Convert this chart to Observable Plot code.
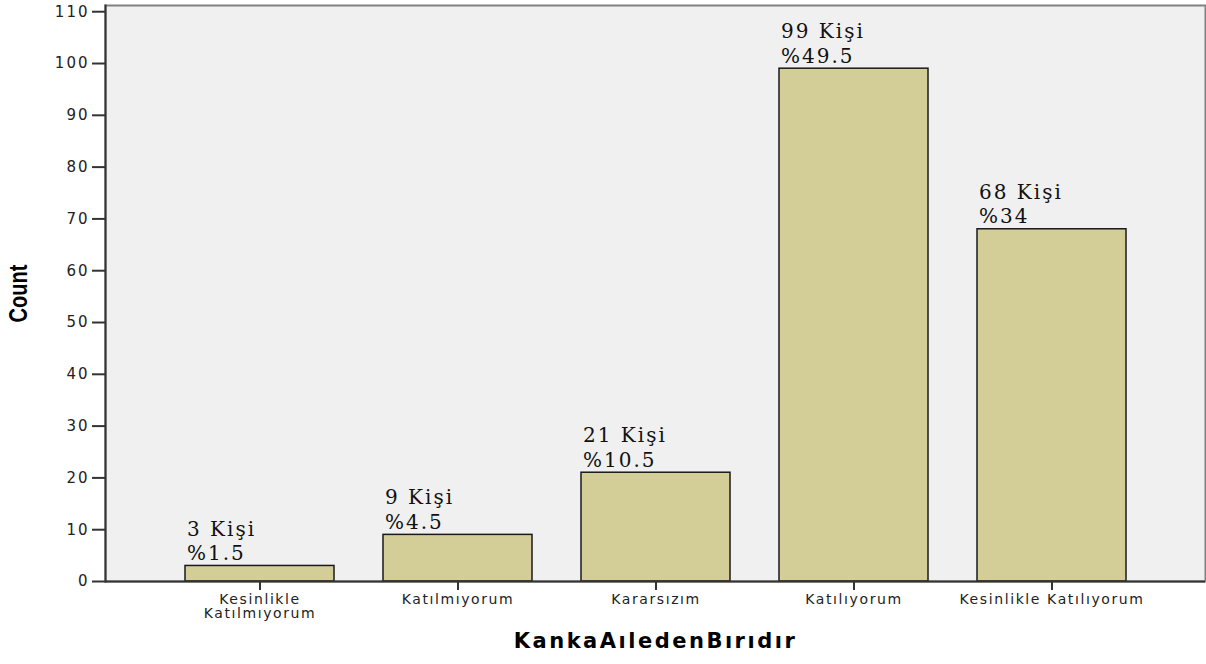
<!DOCTYPE html>
<html>
<head>
<meta charset="utf-8">
<script src="https://cdn.jsdelivr.net/npm/d3@7"></script>
<script src="https://cdn.jsdelivr.net/npm/@observablehq/plot@0.6"></script>
<style>
  html, body { margin: 0; padding: 0; background: #ffffff; }
  #chart svg { display: block; }
</style>
</head>
<body>
<div id="chart"></div>
<script>
const categories = ["Kesinlikle Katılmıyorum", "Katılmıyorum", "Kararsızım", "Katılıyorum", "Kesinlikle Katılıyorum"];
const counts = [3, 9, 21, 99, 68];
const percents = ["1.5", "4.5", "10.5", "49.5", "34"];
const tickLabels = ["Kesinlikle\nKatılmıyorum", "Katılmıyorum", "Kararsızım", "Katılıyorum", "Kesinlikle Katılıyorum"];
const yTicks = [0, 10, 20, 30, 40, 50, 60, 70, 80, 90, 100, 110];

const data = categories.map((c, i) => ({
  category: c,
  count: counts[i],
  label: `${counts[i]} Kişi\n%${percents[i]}`
}));
const xTickData = categories.map((c, i) => ({ category: c, label: tickLabels[i] }));

const chart = Plot.plot({
  width: 1206,
  height: 664,
  marginTop: 5,
  marginRight: 1,
  marginBottom: 83,
  marginLeft: 105,
  style: { background: "#ffffff", color: "#222", fontFamily: "DejaVu Sans", fontSize: "14px" },
  x: { domain: categories, paddingInner: 0.25, paddingOuter: 0.4, label: null },
  y: { domain: [0, 111.2], label: null },
  marks: [
    Plot.frame({ fill: "#f0f0f0", stroke: "#808080", strokeWidth: 2 }),
    Plot.barY(data, { x: "category", y: "count", fill: "#d3ce98", stroke: "#1a1a1a", strokeWidth: 1.5 }),
    Plot.text(data, {
      x: "category", y: "count", text: "label",
      textAnchor: "start", lineAnchor: "bottom", dx: -73, dy: -6,
      fontFamily: "DejaVu Serif", fontSize: 20, lineHeight: 1.22, fill: "#111"
    }),
    Plot.ruleY([0], { stroke: "#333", strokeWidth: 2 }),
    Plot.frame({ anchor: "left", stroke: "#333", strokeWidth: 2 }),
    Plot.axisY({
      ticks: yTicks, tickSize: 13, label: null, tickFormat: () => "",
      stroke: "#333", strokeWidth: 2
    }),
    Plot.axisX({
      tickSize: 9, label: null, tickFormat: () => "",
      stroke: "#333", strokeWidth: 2
    }),
    Plot.text(yTicks, {
      y: (d) => d, text: (d) => String(d), frameAnchor: "left", textAnchor: "end", dx: -16,
      fontFamily: "DejaVu Sans", fontSize: 15, fill: "#222"
    }),
    Plot.text(xTickData, {
      x: "category", text: "label", frameAnchor: "bottom", lineAnchor: "top", dy: 13,
      textAnchor: "middle", fontFamily: "DejaVu Sans", fontSize: 14, lineHeight: 1.0, fill: "#222"
    }),
    Plot.text(["Count"], {
      frameAnchor: "left", rotate: -90, dx: -87, textAnchor: "middle",
      fontFamily: "Liberation Sans", fontWeight: "bold", fontSize: 26, fill: "#000"
    }),
    Plot.text(["KankaAıledenBırıdır"], {
      frameAnchor: "bottom", dy: 66, textAnchor: "middle",
      fontFamily: "DejaVu Sans", fontWeight: "bold", fontSize: 21, fill: "#000"
    })
  ]
});
document.getElementById("chart").appendChild(chart);

// typographic tweaks to match the wide original typeface
d3.select(chart).selectAll("text").each(function () {
  const el = d3.select(this);
  const t = this.textContent;
  if (t === "KankaAıledenBırıdır") el.style("letter-spacing", "2.5px");
  else if (t === "Count") el.attr("transform", (el.attr("transform") || "") + " scale(0.77,1)");
  else if (/^\d+$/.test(t) && yTicks.includes(+t)) el.style("letter-spacing", "2px");
});
d3.select(chart).selectAll("tspan, text").each(function () {
  if (this.childElementCount) return;
  const t = this.textContent;
  if (tickLabels.some((l) => l.split("\n").includes(t))) d3.select(this).style("letter-spacing", "1.6px");
  if (/Kişi|^%/.test(t)) d3.select(this).style("letter-spacing", "2px");
});
</script>
</body>
</html>
